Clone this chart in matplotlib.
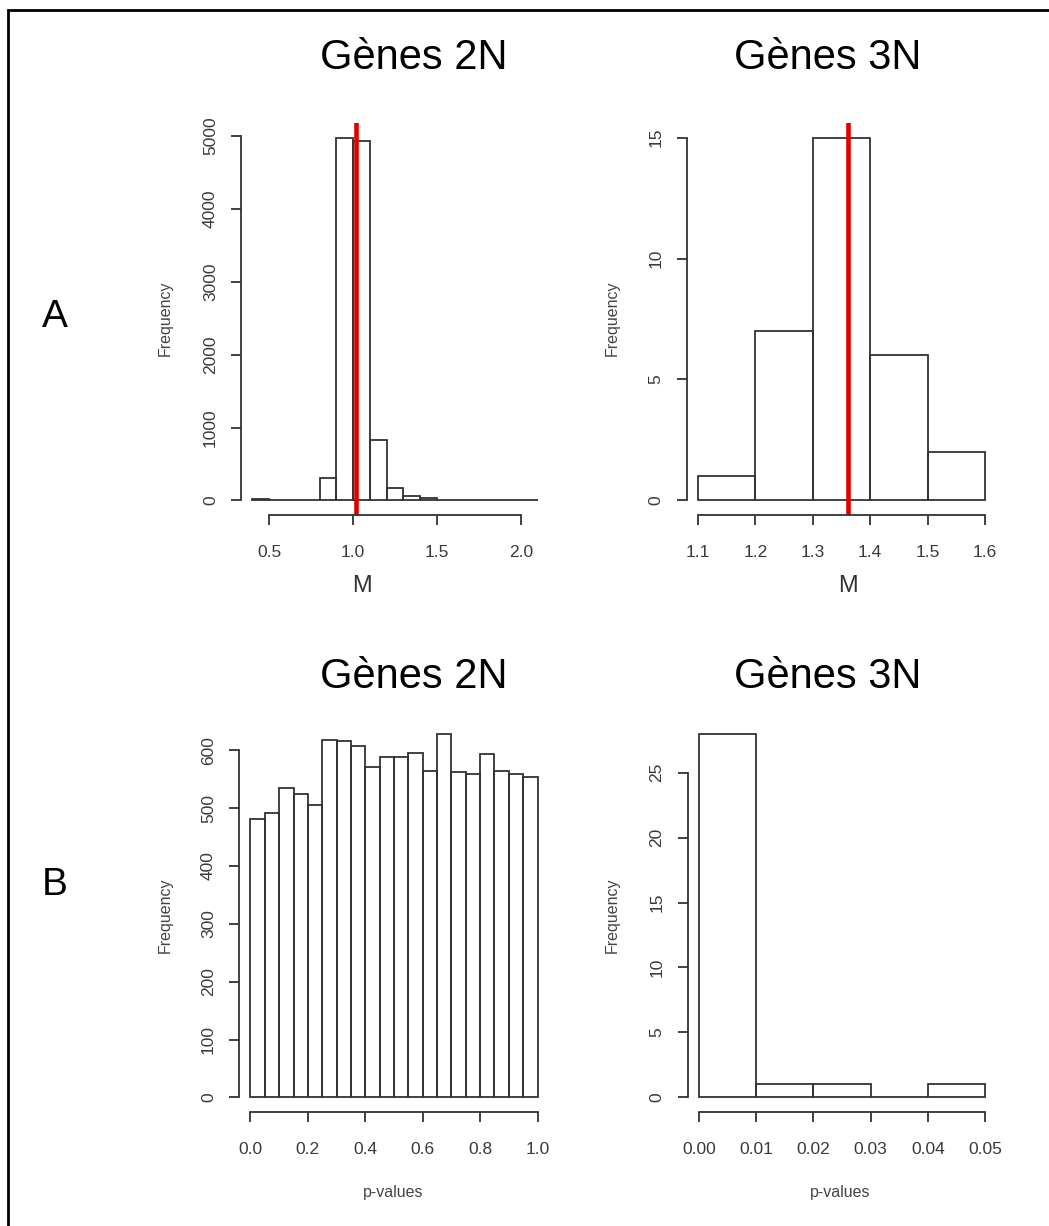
import matplotlib
matplotlib.use("Agg")
import matplotlib.pyplot as plt
from matplotlib.lines import Line2D

W, H = 1049, 1226

# --- data ---
# A: M values, 2N genes (bins of 0.1 from 0.4 to 2.1)
m2_breaks = [0.4, 0.5, 0.6, 0.7, 0.8, 0.9, 1.0, 1.1, 1.2, 1.3, 1.4, 1.5, 1.6, 1.7, 1.8, 1.9, 2.0, 2.1]
m2_counts = [18, 0, 8, 12, 310, 4980, 4930, 830, 170, 55, 35, 12, 8, 6, 5, 0, 0]
m2_mean = 1.02
m2_ticks = [0.5, 1.0, 1.5, 2.0]
m2_yticks = [0, 1000, 2000, 3000, 4000, 5000]

# A: M values, 3N genes
m3_breaks = [1.1, 1.2, 1.3, 1.4, 1.5, 1.6]
m3_counts = [1, 7, 15, 6, 2]
m3_mean = 1.362
m3_ticks = [1.1, 1.2, 1.3, 1.4, 1.5, 1.6]
m3_yticks = [0, 5, 10, 15]

# B: p-values, 2N genes (20 bins of 0.05)
p2_breaks = [0.0, 0.05, 0.1, 0.15, 0.2, 0.25, 0.3, 0.35, 0.4, 0.45, 0.5,
             0.55, 0.6, 0.65, 0.7, 0.75, 0.8, 0.85, 0.9, 0.95, 1.0]
p2_counts = [481, 491, 535, 525, 506, 618, 616, 608, 571, 589,
             588, 595, 565, 629, 563, 559, 594, 564, 559, 554]
p2_ticks = [0.0, 0.2, 0.4, 0.6, 0.8, 1.0]
p2_yticks = [0, 100, 200, 300, 400, 500, 600]

# B: p-values, 3N genes
p3_breaks = [0.0, 0.01, 0.02, 0.03, 0.04, 0.05]
p3_counts = [28, 1, 1, 0, 1]
p3_ticks = [0.00, 0.01, 0.02, 0.03, 0.04, 0.05]
p3_yticks = [0, 5, 10, 15, 20, 25]

plt.rcParams['font.family'] = ['Liberation Sans', 'DejaVu Sans']
EDGE = '#333333'

fig = plt.figure(figsize=(W / 100, H / 100), dpi=100)


def px_axes(x0, y0, x1, y1):
    # pixel box (top-left origin) -> figure axes
    return fig.add_axes([x0 / W, 1 - y1 / H, (x1 - x0) / W, (y1 - y0) / H])


def ftext(x, y, s, **kw):
    fig.text(x / W, 1 - y / H, s, ha='center', va='center', **kw)


def r_hist(ax, breaks, counts, xticks, yticks, xfmt):
    widths = [b - a for a, b in zip(breaks[:-1], breaks[1:])]
    ax.bar(breaks[:-1], counts, width=widths, align='edge', fill=False,
           edgecolor=EDGE, linewidth=1.3)
    span = breaks[-1] - breaks[0]
    top = max(counts)
    ax.set_xlim(breaks[0] - 0.04 * span, breaks[-1] + 0.04 * span)
    ax.set_ylim(-0.04 * top, 1.04 * top)
    for s in ['top', 'right']:
        ax.spines[s].set_visible(False)
    for s in ['left', 'bottom']:
        ax.spines[s].set_color(EDGE)
        ax.spines[s].set_linewidth(1.3)
    ax.spines['bottom'].set_bounds(xticks[0], xticks[-1])
    ax.spines['left'].set_bounds(yticks[0], yticks[-1])
    ax.set_xticks(xticks)
    ax.set_xticklabels([xfmt.format(t) for t in xticks])
    ax.set_yticks(yticks)
    ax.set_yticklabels([str(t) for t in yticks], rotation=90, va='center')
    ax.tick_params(axis='x', length=7.5, width=1.3, color=EDGE, pad=14,
                   labelsize=12.5, labelcolor='#3a3a3a')
    ax.tick_params(axis='y', length=7.5, width=1.3, color=EDGE, pad=9,
                   labelsize=12.5, labelcolor='#3a3a3a')
    ax.patch.set_alpha(0)


ax1 = px_axes(241, 123, 549, 515)
r_hist(ax1, m2_breaks, m2_counts, m2_ticks, m2_yticks, '{:.1f}')
ax1.axvline(m2_mean, color='#e00000', linewidth=3.3)

ax2 = px_axes(686.5, 123, 996.5, 515)
r_hist(ax2, m3_breaks, m3_counts, m3_ticks, m3_yticks, '{:.1f}')
ax2.axvline(m3_mean, color='#e00000', linewidth=3.3)

ax3 = px_axes(239, 719, 549, 1112)
r_hist(ax3, p2_breaks, p2_counts, p2_ticks, p2_yticks, '{:.1f}')

ax4 = px_axes(687.5, 719, 996.5, 1112)
r_hist(ax4, p3_breaks, p3_counts, p3_ticks, p3_yticks, '{:.2f}')

# titles
ftext(414, 58, 'Gènes 2N', fontsize=30)
ftext(828, 58, 'Gènes 3N', fontsize=30)
ftext(414, 677, 'Gènes 2N', fontsize=30)
ftext(828, 677, 'Gènes 3N', fontsize=30)

# axis labels
ftext(362, 586, 'M', fontsize=17, color='#333333')
ftext(848, 586, 'M', fontsize=17, color='#333333')
ftext(393, 1193, 'p-values', fontsize=11.5, color='#444444')
ftext(840, 1193, 'p-values', fontsize=11.5, color='#444444')
for x, y in [(165, 318), (612, 318), (165, 915), (612, 915)]:
    ftext(x, y, 'Frequency', fontsize=11.5, color='#444444', rotation=90)

# panel letters
ftext(55, 317, 'A', fontsize=28)
ftext(55, 885, 'B', fontsize=28)

# frame: only the top and left edges are inside the image
fx, fy = 7.5 / W, 1 - 9.5 / H
fig.lines.append(Line2D([fx, fx, 1.0], [0.0, fy, fy], transform=fig.transFigure,
                        color='black', linewidth=2.0, solid_joinstyle='miter'))

fig.savefig('out.png', dpi=100)
